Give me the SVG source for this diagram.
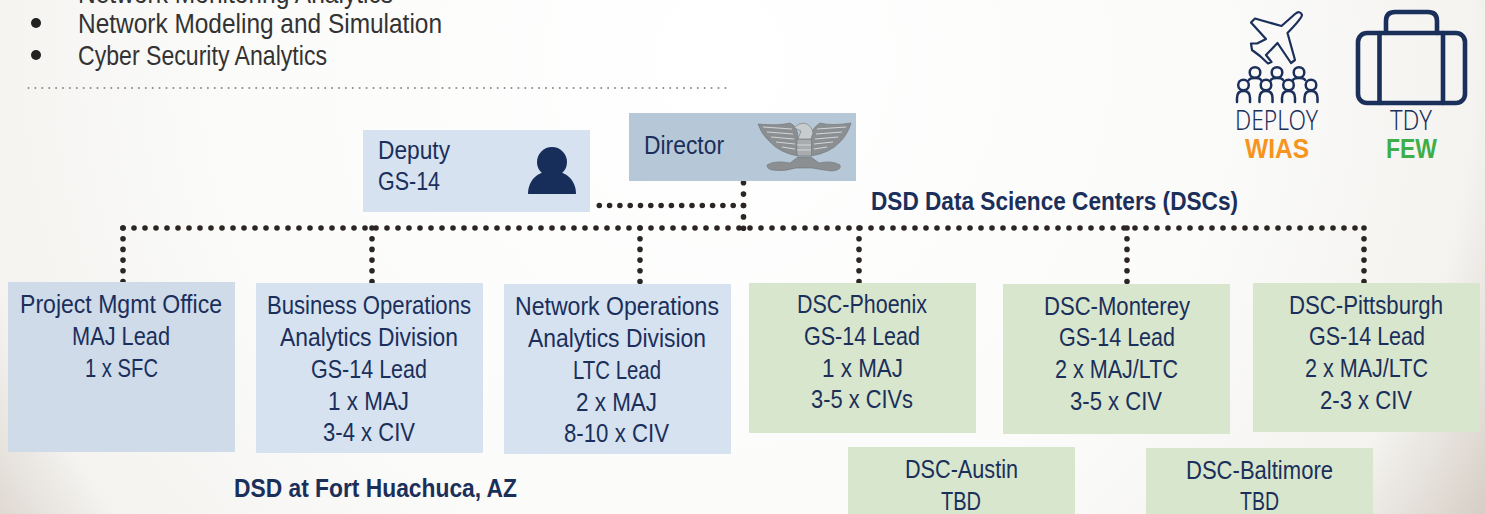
<svg xmlns="http://www.w3.org/2000/svg" width="1485" height="514" viewBox="0 0 1485 514">
<style>
text{font-family:"Liberation Sans","Noto Sans",sans-serif;font-size:26px;fill:#1b2f5b}
.b{font-weight:700;font-size:25.500px}
.top{fill:#333;font-size:27.500px}
.thin{font-family:"Noto Sans","Liberation Sans",sans-serif;font-weight:300;font-size:27px}
.blue{fill:#d6e2f0}
.green{fill:#d7e6cc}
.dot{fill:none;stroke:#2b2523;stroke-width:5.600;stroke-linecap:round;stroke-dasharray:0 11}
.v{stroke-dasharray:0 10.700}
.icon{fill:none;stroke:#1b2f5b;stroke-linecap:round;stroke-linejoin:round}
</style>
<defs>
<radialGradient id="bg" gradientUnits="userSpaceOnUse" cx="720" cy="60" r="890">
<stop offset="0" stop-color="#ffffff"/><stop offset=".55" stop-color="#fbfbfa"/><stop offset=".85" stop-color="#f4f3f0"/><stop offset="1" stop-color="#d6cec5"/>
</radialGradient>
</defs>
<rect width="1485" height="514" fill="url(#bg)"/>
<g id="bullets">
<text class="top" x="78" y="3" textLength="315" lengthAdjust="spacingAndGlyphs">Network Monitoring Analytics</text>
<circle cx="36" cy="23" r="5" fill="#222"/>
<text class="top" x="78" y="33" textLength="364" lengthAdjust="spacingAndGlyphs">Network Modeling and Simulation</text>
<circle cx="36" cy="55" r="5" fill="#222"/>
<text class="top" x="78" y="65" textLength="249" lengthAdjust="spacingAndGlyphs">Cyber Security Analytics</text>
<path d="M28.500 88H732" fill="none" stroke="#8a8a8a" stroke-width="2" stroke-linecap="round" stroke-dasharray="0 6.900"/>
</g>
<g id="connectors">
<path class="dot" d="M123 228H1364"/>
<path class="dot" style="stroke-dasharray:0 11.400" d="M743.500 182.700V229"/>
<path class="dot" style="stroke-dasharray:0 10.300" d="M743.500 205.500H599"/>
<path class="dot v" d="M123 228V282"/>
<path class="dot v" d="M372 228V283"/>
<path class="dot v" d="M640 228V284"/>
<path class="dot v" d="M859 228V283"/>
<path class="dot v" d="M1127 228V284"/>
<path class="dot v" d="M1364 228V283"/>
</g>
<g id="deputy">
<rect class="blue" x="363" y="130" width="227" height="82"/>
<text x="378" y="159" textLength="72" lengthAdjust="spacingAndGlyphs">Deputy</text>
<text x="378" y="190" textLength="62" lengthAdjust="spacingAndGlyphs">GS-14</text>
<circle cx="552" cy="162" r="15" fill="#172e5a"/>
<path d="M528 194C528 180 538 171 552 171S576 180 576 194Z" fill="#172e5a"/>
</g>
<g id="director">
<rect x="629" y="113" width="227" height="68" fill="#b6c8d7"/>
<text x="644" y="154" textLength="80" lengthAdjust="spacingAndGlyphs">Director</text>
<g fill="#8b8f92" stroke="#6f7477" stroke-width=".6">
<path d="M758 124Q778 126 790 123Q797 126 798 136V156Q780 153 770 142Q761 134 758 124Z"/>
<path d="M851 123Q832 126 820 123Q812 128 811 136V156Q830 153 840 142Q848 134 851 123Z"/>
<path d="M767 165Q774 160 790 163L798 157H811L819 163Q832 160 840 165Q842 170 832 171Q822 170 812 168H796Q784 172 772 170Q767 169 767 165Z"/>
<rect x="797" y="139" width="14.500" height="17" rx="1.500" fill="#a8acae"/>
<path d="M794 128Q798 123 804 123Q812 125 813 133L811 139H798L801 131Q797 129 794 128Z" fill="#c9cccd"/>
</g>
<g fill="none" stroke="#d2d5d6" stroke-width="1.200">
<path d="M763 127L792 129M767 132L793 134M771 137L794 139M776 142L795 144M782 147L795 149M846 127L817 129M842 132L816 134M838 137L815 139M833 142L814 144M827 147L814 149M797 145H811M797 150H811"/>
</g>
</g>
<g id="project">
<rect x="8" y="282" width="227" height="170" fill="#cfdbe9"/>
<text x="20" y="313" textLength="202" lengthAdjust="spacingAndGlyphs">Project Mgmt Office</text>
<text x="72" y="345" textLength="98" lengthAdjust="spacingAndGlyphs">MAJ Lead</text>
<text x="85" y="377" textLength="73" lengthAdjust="spacingAndGlyphs">1 x SFC</text>
</g>
<g id="business">
<rect class="blue" x="256" y="283" width="227" height="170"/>
<text x="267" y="314" textLength="204" lengthAdjust="spacingAndGlyphs">Business Operations</text>
<text x="280" y="346" textLength="178" lengthAdjust="spacingAndGlyphs">Analytics Division</text>
<text x="311" y="378" textLength="116" lengthAdjust="spacingAndGlyphs">GS-14 Lead</text>
<text x="328" y="410" textLength="81" lengthAdjust="spacingAndGlyphs">1 x MAJ</text>
<text x="323" y="441" textLength="92" lengthAdjust="spacingAndGlyphs">3-4 x CIV</text>
</g>
<g id="network">
<rect class="blue" x="504" y="284" width="227" height="170"/>
<text x="515" y="315" textLength="204" lengthAdjust="spacingAndGlyphs">Network Operations</text>
<text x="528" y="347" textLength="178" lengthAdjust="spacingAndGlyphs">Analytics Division</text>
<text x="573" y="379" textLength="88" lengthAdjust="spacingAndGlyphs">LTC Lead</text>
<text x="576" y="411" textLength="81" lengthAdjust="spacingAndGlyphs">2 x MAJ</text>
<text x="564" y="442" textLength="105" lengthAdjust="spacingAndGlyphs">8-10 x CIV</text>
</g>
<g id="phoenix">
<rect class="green" x="749" y="283" width="227" height="150"/>
<text x="797" y="313" textLength="130" lengthAdjust="spacingAndGlyphs">DSC-Phoenix</text>
<text x="804" y="345" textLength="116" lengthAdjust="spacingAndGlyphs">GS-14 Lead</text>
<text x="822" y="377" textLength="81" lengthAdjust="spacingAndGlyphs">1 x MAJ</text>
<text x="811" y="408" textLength="102" lengthAdjust="spacingAndGlyphs">3-5 x CIVs</text>
</g>
<g id="monterey">
<rect class="green" x="1003" y="284" width="227" height="150"/>
<text x="1044" y="315" textLength="146" lengthAdjust="spacingAndGlyphs">DSC-Monterey</text>
<text x="1059" y="346" textLength="116" lengthAdjust="spacingAndGlyphs">GS-14 Lead</text>
<text x="1055" y="378" textLength="123" lengthAdjust="spacingAndGlyphs">2 x MAJ/LTC</text>
<text x="1070" y="410" textLength="92" lengthAdjust="spacingAndGlyphs">3-5 x CIV</text>
</g>
<g id="pittsburgh">
<rect class="green" x="1253" y="283" width="227" height="149"/>
<text x="1289" y="314" textLength="154" lengthAdjust="spacingAndGlyphs">DSC-Pittsburgh</text>
<text x="1309" y="345" textLength="116" lengthAdjust="spacingAndGlyphs">GS-14 Lead</text>
<text x="1305" y="377" textLength="123" lengthAdjust="spacingAndGlyphs">2 x MAJ/LTC</text>
<text x="1320" y="409" textLength="92" lengthAdjust="spacingAndGlyphs">2-3 x CIV</text>
</g>
<g id="austin">
<rect class="green" x="848" y="447" width="227" height="67"/>
<text x="905" y="478" textLength="113" lengthAdjust="spacingAndGlyphs">DSC-Austin</text>
<text x="941" y="510" textLength="40" lengthAdjust="spacingAndGlyphs">TBD</text>
</g>
<g id="baltimore">
<rect class="green" x="1146" y="448" width="227" height="66"/>
<text x="1186" y="479" textLength="147" lengthAdjust="spacingAndGlyphs">DSC-Baltimore</text>
<text x="1240" y="510" textLength="39" lengthAdjust="spacingAndGlyphs">TBD</text>
</g>
<g id="labels">
<text class="b" x="234" y="497" textLength="283" lengthAdjust="spacingAndGlyphs">DSD at Fort Huachuca, AZ</text>
<text class="b" x="871" y="210" textLength="367" lengthAdjust="spacingAndGlyphs">DSD Data Science Centers (DSCs)</text>
</g>
<g id="deploy">
<g class="icon" stroke-width="2.200">
<path d="M1281.500 26L1295 14Q1300 10 1302 15Q1302 18 1287.500 33L1295 60L1291 63L1277.500 43L1266 55L1271.500 62L1268 63.500L1260 56L1252 50L1251 43.500L1257 43.500L1266 39L1251 22.500L1255 18.500Z"/>
</g>
<g class="icon" stroke-width="2.500">
<circle cx="1255" cy="72.500" r="5.300"/><circle cx="1277" cy="72.500" r="5.300"/><circle cx="1299" cy="72.500" r="5.300"/>
<circle cx="1243.500" cy="85" r="5.300"/><circle cx="1266" cy="85" r="5.300"/><circle cx="1288.500" cy="85" r="5.300"/><circle cx="1311" cy="85" r="5.300"/>
<path d="M1249 80Q1250 78 1255 78Q1260 78 1261 80M1271 80Q1272 78 1277 78Q1282 78 1283 80M1293 80Q1294 78 1299 78Q1304 78 1305 80"/>
<path d="M1237 102V98Q1237 91 1243.500 91Q1250 91 1250 98V102M1259.500 102V98Q1259.500 91 1266 91Q1272.500 91 1272.500 98V102M1282 102V98Q1282 91 1288.500 91Q1295 91 1295 98V102M1304.500 102V98Q1304.500 91 1311 91Q1317.500 91 1317.500 98V102"/>
</g>
<text class="thin" x="1235" y="130" textLength="83" lengthAdjust="spacingAndGlyphs">DEPLOY</text>
<text class="b" x="1245" y="158" textLength="64" lengthAdjust="spacingAndGlyphs" style="fill:#f7941d;font-size:27px">WIAS</text>
</g>
<g id="tdy">
<g class="icon" stroke-width="4.600">
<rect x="1358" y="33" width="107" height="70" rx="9"/>
<path d="M1386 33V21Q1386 12 1395 12H1428Q1437 12 1437 21V33M1379.500 33V103M1443 33V103"/>
</g>
<text class="thin" x="1390" y="130" textLength="42" lengthAdjust="spacingAndGlyphs">TDY</text>
<text class="b" x="1386" y="158" textLength="51" lengthAdjust="spacingAndGlyphs" style="fill:#3fae49;font-size:27px">FEW</text>
</g>
</svg>
